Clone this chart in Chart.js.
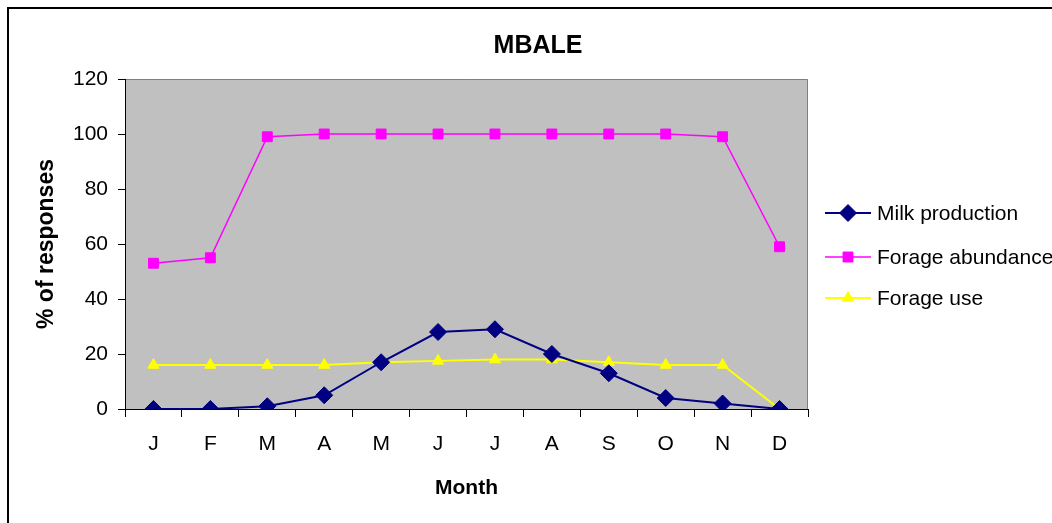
<!DOCTYPE html>
<html>
<head>
<meta charset="utf-8">
<script src="https://cdn.jsdelivr.net/npm/chart.js@4.4.1/dist/chart.umd.min.js"></script>
<style>
  html, body { margin: 0; padding: 0; background: #fff; overflow: hidden; }
  #wrap { position: relative; width: 1052px; height: 523px; }
  #frame { position: absolute; left: 7px; top: 7px; width: 1100px; height: 600px;
           border-left: 2px solid #000; border-top: 2px solid #000; pointer-events: none; }
  canvas { position: absolute; left: 0; top: 0; }
</style>
</head>
<body>
<div id="wrap">
  <canvas id="c" width="1052" height="523"></canvas>
  <div id="frame"></div>
</div>
<script>
const months = ['J','F','M','A','M','J','J','A','S','O','N','D'];
const milkProduction   = [0, 0, 1, 5, 17, 28, 29, 20, 13, 4, 2, 0];
const forageAbundance  = [53, 55, 99, 100, 100, 100, 100, 100, 100, 100, 99, 59];
const forageUse        = [16, 16, 16, 16, 17, 17.5, 18, 18, 17, 16, 16, 0];
const yTicks = [0, 20, 40, 60, 80, 100, 120];
const chartTitle = 'MBALE';

const FONT = "'Liberation Sans', Arial, sans-serif";

const plotBg = {
  id: 'plotBg',
  beforeDraw(chart) {
    const {ctx, chartArea: a} = chart;
    ctx.save();
    ctx.fillStyle = '#C0C0C0';
    ctx.fillRect(a.left, a.top, a.right - a.left, a.bottom - a.top);
    ctx.strokeStyle = '#808080';
    ctx.lineWidth = 1;
    ctx.beginPath();
    ctx.moveTo(a.left, a.top + 0.5);
    ctx.lineTo(a.right - 0.5, a.top + 0.5);
    ctx.lineTo(a.right - 0.5, a.bottom);
    ctx.stroke();
    ctx.restore();
  }
};

const titlePlugin = {
  id: 'titlePlugin',
  afterDraw(chart) {
    const ctx = chart.ctx;
    ctx.save();
    ctx.fillStyle = '#000';
    ctx.font = 'bold 25px ' + FONT;
    ctx.textAlign = 'center';
    ctx.textBaseline = 'middle';
    ctx.fillText(chartTitle, 538, 46);
    ctx.restore();
  }
};

const customLegend = {
  id: 'customLegend',
  afterDraw(chart) {
    const ctx = chart.ctx;
    const ys = [213, 257, 298];
    chart.data.datasets.forEach((ds, i) => {
      const y = ys[i];
      ctx.save();
      ctx.strokeStyle = ds.borderColor;
      ctx.lineWidth = ds.borderWidth;
      ctx.beginPath();
      ctx.moveTo(825, y);
      ctx.lineTo(871, y);
      ctx.stroke();
      ctx.fillStyle = ds.pointBackgroundColor;
      ctx.strokeStyle = ds.pointBorderColor;
      ctx.lineWidth = 1;
      Chart.helpers.drawPoint(ctx, {pointStyle: ds.pointStyle, radius: ds.pointRadius, borderWidth: 1, rotation: 0}, 848, y);
      ctx.fillStyle = '#000';
      ctx.font = '21px ' + FONT;
      ctx.textBaseline = 'middle';
      ctx.textAlign = 'left';
      ctx.fillText(ds.label, 877, y + 1);
      ctx.restore();
    });
  }
};

new Chart(document.getElementById('c'), {
  type: 'line',
  data: {
    labels: months,
    datasets: [
      { label: 'Milk production', data: milkProduction,
        borderColor: '#000080', backgroundColor: '#000080', borderWidth: 2,
        pointStyle: 'rectRot', pointRadius: 8.5, pointBackgroundColor: '#000080', pointBorderColor: '#000080', pointBorderWidth: 1 },
      { label: 'Forage abundance', data: forageAbundance,
        borderColor: '#FF00FF', backgroundColor: '#FF00FF', borderWidth: 1.5,
        pointStyle: 'rect', pointRadius: 7, pointBackgroundColor: '#FF00FF', pointBorderColor: '#FF00FF', pointBorderWidth: 1 },
      { label: 'Forage use', data: forageUse,
        borderColor: '#FFFF00', backgroundColor: '#FFFF00', borderWidth: 2,
        pointStyle: 'triangle', pointRadius: 6.5, pointBackgroundColor: '#FFFF00', pointBorderColor: '#FFFF00', pointBorderWidth: 1 }
    ]
  },
  options: {
    responsive: false,
    animation: false,
    devicePixelRatio: 1,
    layout: { padding: { left: 0, right: 244, top: 79, bottom: 0 } },
    plugins: {
      legend: { display: false },
      tooltip: { enabled: false },
      title: { display: false }
    },
    scales: {
      x: {
        type: 'category',
        offset: true,
        border: { display: true, color: '#000', width: 1 },
        grid: { display: true, drawOnChartArea: false, drawTicks: true, tickLength: 8, color: '#000', offset: true },
        ticks: { color: '#000', font: { family: FONT, size: 21 }, padding: 15, maxRotation: 0, autoSkip: false },
        title: { display: true, text: 'Month', color: '#000', font: { family: FONT, size: 21, weight: 'bold' }, padding: { top: 0, bottom: 22 } },
        afterFit(s) { s.height = 114; }
      },
      y: {
        min: 0, max: 120,
        afterBuildTicks(s) { s.ticks = yTicks.map(v => ({ value: v })); },
        border: { display: true, color: '#000', width: 1 },
        grid: { display: true, drawOnChartArea: false, drawTicks: true, tickLength: 7, color: '#000' },
        ticks: { color: '#000', font: { family: FONT, size: 21 }, padding: 10 },
        title: { display: true, text: '% of responses', color: '#000', font: { family: FONT, size: 23, weight: 'bold' }, padding: { top: 33, bottom: 0 } },
        afterFit(s) { s.width = 125; }
      }
    }
  },
  plugins: [plotBg, titlePlugin, customLegend]
});
</script>
</body>
</html>
